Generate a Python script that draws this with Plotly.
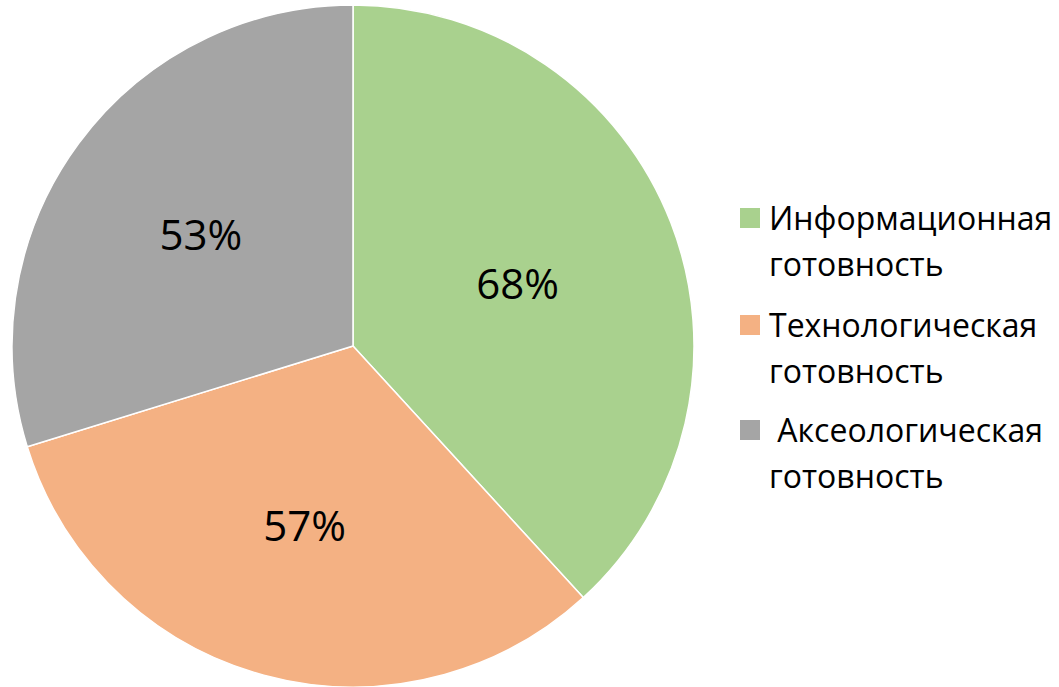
import plotly.graph_objects as go

categories = ["Информационная готовность", "Технологическая готовность", " Аксеологическая готовность"]
legend_lines = [("Информационная", "готовность"), ("Технологическая", "готовность"), (" Аксеологическая", "готовность")]
values = [68, 57, 53]
value_labels = ["68%", "57%", "53%"]
colors = ["#A9D18E", "#F4B183", "#A5A5A5"]

W, H = 1059, 687

fig = go.Figure(go.Pie(
    labels=categories,
    values=values,
    text=value_labels,
    textinfo="text",
    textposition="inside",
    insidetextorientation="horizontal",
    sort=False,
    direction="clockwise",
    rotation=0,
    marker=dict(colors=colors, line=dict(color="white", width=1.5)),
    textfont=dict(family="Open Sans", size=42, color="black"),
    domain=dict(x=[12 / W, 694 / W], y=[0, 682 / H]),
    hoverinfo="label+percent",
    showlegend=False,
))

# Manual legend (larger squares and line spacing like the original)
shapes = []
annotations = []
item_centers = [218, 325, 430]  # pixel y of first line centre
for i, (lines, col) in enumerate(zip(legend_lines, colors)):
    yc = item_centers[i]
    shapes.append(dict(
        type="rect", xref="paper", yref="paper",
        x0=740 / W, x1=760 / W, y0=1 - (yc + 10) / H, y1=1 - (yc - 10) / H,
        fillcolor=col, line=dict(width=0),
    ))
    for j, txt in enumerate(lines):
        annotations.append(dict(
            text=txt, xref="paper", yref="paper",
            x=767 / W, y=1 - (yc - 1 + j * 46) / H,
            xanchor="left", yanchor="middle", showarrow=False,
            font=dict(family="Open Sans", size=32, color="black"),
        ))

fig.update_layout(
    width=W, height=H,
    margin=dict(l=0, r=0, t=0, b=0),
    paper_bgcolor="white",
    plot_bgcolor="white",
    shapes=shapes,
    annotations=annotations,
)

fig.write_html("out.html", config={"displayModeBar": False},
               post_script="document.body.style.margin='0';")
